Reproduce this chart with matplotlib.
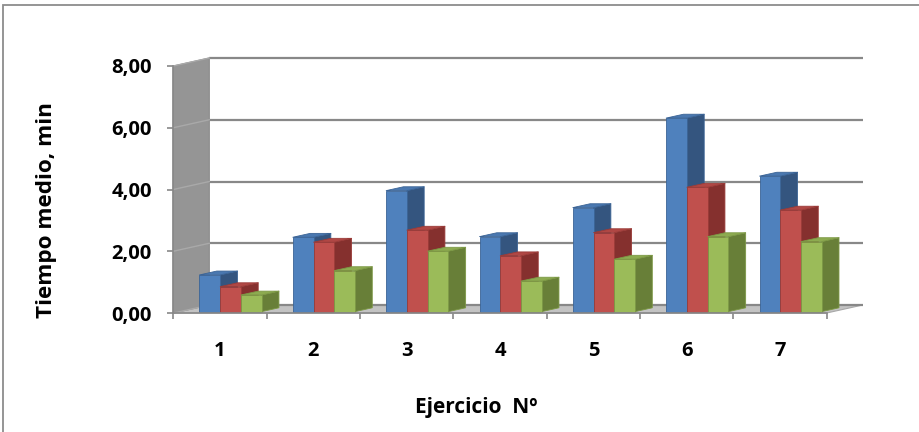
import matplotlib
matplotlib.use("Agg")
import matplotlib.pyplot as plt
from matplotlib.patches import Polygon, Rectangle
from matplotlib.ticker import FixedLocator, NullFormatter, FixedFormatter

# ---- data -------------------------------------------------------------
categories = ["1", "2", "3", "4", "5", "6", "7"]
serie_azul = [1.19, 2.41, 3.92, 2.43, 3.37, 6.27, 4.39]
serie_roja = [0.81, 2.25, 2.64, 1.81, 2.56, 4.03, 3.29]
serie_verde = [0.54, 1.33, 1.96, 0.99, 1.70, 2.43, 2.27]
y_ticks = [0, 2, 4, 6, 8]
y_tick_labels = [f"{v:.2f}".replace(".", ",") for v in y_ticks]

# ---- style ------------------------------------------------------------
plt.rcParams["font.family"] = ["Open Sans", "DejaVu Sans"]
plt.rcParams["font.weight"] = "bold"

series = [
    (serie_azul, {"front": "#4F81BD", "top": "#4A78B0", "side": "#34557F", "edge": "#3B6496"}),
    (serie_roja, {"front": "#C0504D", "top": "#B04744", "side": "#85302E", "edge": "#9A3B38"}),
    (serie_verde, {"front": "#9BBB59", "top": "#8DAB50", "side": "#687F38", "edge": "#7C9845"}),
]

W, H = 920, 432
fig = plt.figure(figsize=(W / 100, H / 100), dpi=100)

# front plane of the 3-D plot area (pixels)
x_left, x_right = 173.3, 826.7
y_top, y_bottom = 66.0, 313.0
ax = fig.add_axes([x_left / W, 1 - y_bottom / H,
                   (x_right - x_left) / W, (y_bottom - y_top) / H])
n = len(categories)
ax.set_xlim(0, n)
ax.set_ylim(0, 8)
ax.set_facecolor("none")

# oblique depth offset (full depth of the walls), in data units
depth_px_x, depth_px_y = 36.0, 8.0
DX = depth_px_x * n / (x_right - x_left)
DY = depth_px_y * 8 / (y_bottom - y_top)


def P(x, y, d):
    """Project a point at depth fraction d (0 = front, 1 = back)."""
    return (x + d * DX, y + d * DY)


grid_col = "#888888"

# floor
floor = Polygon([P(0, 0, 0), P(n, 0, 0), P(n, 0, 1), P(0, 0, 1)], closed=True,
                facecolor="#C3C3C3", edgecolor="#A8A8A8", lw=0.8,
                clip_on=False, zorder=2)
ax.add_patch(floor)

# back-wall gridlines
for v in y_ticks:
    (xa, ya), (xb, yb) = P(0, v, 1), P(n, v, 1)
    ax.plot([xa, xb], [ya, yb], color=grid_col, lw=1.6,
            solid_capstyle="butt", clip_on=False, zorder=1 if v else 2.5)

# left side wall
wall = Polygon([P(0, 0, 0), P(0, 8, 0), P(0, 8, 1), P(0, 0, 1)], closed=True,
               facecolor="#959595", edgecolor="#8A8A8A", lw=0.8,
               clip_on=False, zorder=3)
ax.add_patch(wall)
for v in y_ticks:
    (xa, ya), (xb, yb) = P(0, v, 0), P(0, v, 1)
    ax.plot([xa, xb], [ya, yb], color="#A9A9A9", lw=1.0,
            clip_on=False, zorder=3.1)

# 3-D columns
bar_w = 0.222
offset = 0.215
d0, d1 = 0.17, 0.65
z = 4.0
for i in range(n):
    for k, (vals, col) in enumerate(series):
        v = vals[i]
        x0 = i + offset + k * bar_w
        x1 = x0 + bar_w
        side = [P(x1, 0, d0), P(x1, 0, d1), P(x1, v, d1), P(x1, v, d0)]
        top = [P(x0, v, d0), P(x1, v, d0), P(x1, v, d1), P(x0, v, d1)]
        front = [P(x0, 0, d0), P(x1, 0, d0), P(x1, v, d0), P(x0, v, d0)]
        for pts, fc in ((side, col["side"]), (top, col["top"]), (front, col["front"])):
            ax.add_patch(Polygon(pts, closed=True, facecolor=fc,
                                 edgecolor=col["edge"], lw=0.6,
                                 joinstyle="round", clip_on=False, zorder=z))
            z += 0.01

# axes lines and ticks
for s in ("top", "right"):
    ax.spines[s].set_visible(False)
for s in ("left", "bottom"):
    ax.spines[s].set_color(grid_col)
    ax.spines[s].set_linewidth(1.2)
    ax.spines[s].set_zorder(20)

ax.yaxis.set_major_locator(FixedLocator(y_ticks))
ax.yaxis.set_major_formatter(FixedFormatter(y_tick_labels))
ax.tick_params(axis="y", direction="out", length=4.5, width=1.2,
               color=grid_col, pad=11, labelsize=14.5, labelcolor="black")

ax.xaxis.set_major_locator(FixedLocator(range(n + 1)))
ax.xaxis.set_major_formatter(NullFormatter())
ax.xaxis.set_minor_locator(FixedLocator([i + 0.5 for i in range(n)]))
ax.xaxis.set_minor_formatter(FixedFormatter(categories))
ax.tick_params(axis="x", which="major", direction="out", length=4.5,
               width=1.2, color=grid_col)
ax.tick_params(axis="x", which="minor", length=0, pad=20,
               labelsize=14.5, labelcolor="black")

ax.set_ylabel("Tiempo medio, min", fontsize=16.2, fontweight="bold",
              va="center")
ax.yaxis.set_label_coords((47 - x_left) / (x_right - x_left),
                          (y_bottom - 210) / (y_bottom - y_top))
ax.set_xlabel("Ejercicio  Nº", fontsize=15, fontweight="bold", va="center")
ax.xaxis.set_label_coords((476 - x_left) / (x_right - x_left),
                          (y_bottom - 407) / (y_bottom - y_top))

# chart-area border
fig.add_artist(Rectangle((3 / W, -0.05), (W + 10) / W, 1 - 5 / H + 0.05,
                         transform=fig.transFigure, fill=False,
                         edgecolor="#8C8C8C", lw=1.3))

fig.savefig("out.png", dpi=100)
